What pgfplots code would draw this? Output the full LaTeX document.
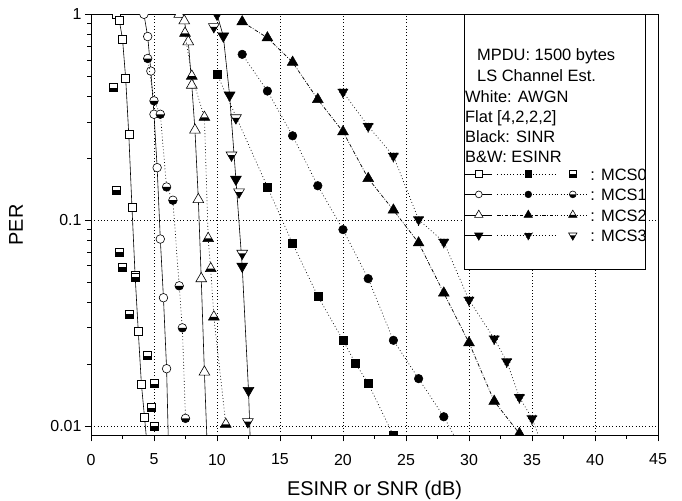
\documentclass[border=0pt]{standalone}
\usepackage{pgfplots}
\pgfplotsset{compat=1.18}
\usepackage{fontspec}
\setmainfont{Liberation Sans}

% half-filled marks (bottom half black)
\pgfdeclareplotmark{hsq}{%
  \pgfscope\pgfsetfillcolor{white}%
  \pgfpathrectangle{\pgfqpoint{-\pgfplotmarksize}{-\pgfplotmarksize}}{\pgfqpoint{2\pgfplotmarksize}{2\pgfplotmarksize}}\pgfusepathqfill\endpgfscope
  \pgfscope\pgfsetfillcolor{black}%
  \pgfpathrectangle{\pgfqpoint{-\pgfplotmarksize}{-\pgfplotmarksize}}{\pgfqpoint{2\pgfplotmarksize}{\pgfplotmarksize}}\pgfusepathqfill\endpgfscope
  \pgfpathrectangle{\pgfqpoint{-\pgfplotmarksize}{-\pgfplotmarksize}}{\pgfqpoint{2\pgfplotmarksize}{2\pgfplotmarksize}}\pgfusepathqstroke}
\pgfdeclareplotmark{hcirc}{%
  \pgfscope\pgfsetfillcolor{white}%
  \pgfpathcircle{\pgfpointorigin}{\pgfplotmarksize}\pgfusepathqfill\endpgfscope
  \pgfscope\pgfsetfillcolor{black}%
  \pgfpathmoveto{\pgfqpoint{-\pgfplotmarksize}{0pt}}\pgfpatharc{180}{360}{\pgfplotmarksize}\pgfpathclose\pgfusepathqfill\endpgfscope
  \pgfpathcircle{\pgfpointorigin}{\pgfplotmarksize}\pgfusepathqstroke}
\pgfdeclareplotmark{htri}{%
  \pgfscope\pgfsetfillcolor{white}%
  \pgfpathmoveto{\pgfqpointpolar{90}{\pgfplotmarksize}}\pgfpathlineto{\pgfqpointpolar{-30}{\pgfplotmarksize}}\pgfpathlineto{\pgfqpointpolar{210}{\pgfplotmarksize}}\pgfpathclose\pgfusepathqfill\endpgfscope
  \pgfscope\pgfsetfillcolor{black}%
  \pgfpathmoveto{\pgfqpointpolar{-30}{\pgfplotmarksize}}\pgfpathlineto{\pgfqpointpolar{210}{\pgfplotmarksize}}\pgfpathlineto{\pgfqpoint{-0.577\pgfplotmarksize}{0pt}}\pgfpathlineto{\pgfqpoint{0.577\pgfplotmarksize}{0pt}}\pgfpathclose\pgfusepathqfill\endpgfscope
  \pgfpathmoveto{\pgfqpointpolar{90}{\pgfplotmarksize}}\pgfpathlineto{\pgfqpointpolar{-30}{\pgfplotmarksize}}\pgfpathlineto{\pgfqpointpolar{210}{\pgfplotmarksize}}\pgfpathclose\pgfusepathqstroke}
\pgfdeclareplotmark{hitri}{%
  \pgfscope\pgfsetfillcolor{white}%
  \pgfpathmoveto{\pgfqpointpolar{-90}{\pgfplotmarksize}}\pgfpathlineto{\pgfqpointpolar{30}{\pgfplotmarksize}}\pgfpathlineto{\pgfqpointpolar{150}{\pgfplotmarksize}}\pgfpathclose\pgfusepathqfill\endpgfscope
  \pgfscope\pgfsetfillcolor{black}%
  \pgfpathmoveto{\pgfqpointpolar{-90}{\pgfplotmarksize}}\pgfpathlineto{\pgfqpoint{0.577\pgfplotmarksize}{0pt}}\pgfpathlineto{\pgfqpoint{-0.577\pgfplotmarksize}{0pt}}\pgfpathclose\pgfusepathqfill\endpgfscope
  \pgfpathmoveto{\pgfqpointpolar{-90}{\pgfplotmarksize}}\pgfpathlineto{\pgfqpointpolar{30}{\pgfplotmarksize}}\pgfpathlineto{\pgfqpointpolar{150}{\pgfplotmarksize}}\pgfpathclose\pgfusepathqstroke}

\tikzset{
  awgnT/.style={black, line width=0.6pt, solid, mark options={solid, fill=white, line width=0.6pt}},
  sinrT/.style={black, line width=0.7pt, dash pattern=on 0.8bp off 2.4bp, mark options={solid, fill=black, line width=0.5pt}},
  sinrddT/.style={black, line width=0.7pt, dash pattern=on 3.5bp off 1.6bp on 0.8bp off 1.6bp, mark options={solid, fill=black, line width=0.5pt}},
  esinrT/.style={black, line width=0.7pt, dash pattern=on 0.8bp off 2.4bp, mark options={solid, line width=0.6pt}},
}
% one legend row: AWGN sample, SINR sample, ESINR sample
\pgfplotsset{
  legrow/.style n args={5}{legend image code/.code={%
    \draw[awgnT, mark=#1, mark size=#2, #4, mark repeat=2, mark phase=2] plot coordinates {(0bp,0bp) (13.5bp,0bp) (27bp,0bp)};
    \draw[#5, mark=#1, mark size=#2, #4, mark repeat=2, mark phase=2] plot coordinates {(32bp,0bp) (63bp,0bp) (92bp,0bp)};
    \path (0bp,0bp) (125bp,0bp);
    #3}},
}

\begin{document}
\begin{tikzpicture}
\begin{axis}[
  scale only axis, width=567bp, height=421.2bp,
  xmin=0, xmax=45, ymode=log, ymin=0.009, ymax=1,
  xtick={0,5,...,45}, minor x tick num=1,
  ytick={0.01,0.1,1}, yticklabels={0.01,0.1,1},
  minor ytick={0.02,0.03,0.04,0.05,0.06,0.07,0.08,0.09,0.2,0.3,0.4,0.5,0.6,0.7,0.8,0.9},
  tick align=outside, tick pos=left,
  major tick length=6bp, minor tick length=3.5bp,
  every tick/.style={black, line width=0.8pt},
  grid=major,
  major grid style={black, line width=0.45pt, dash pattern=on 0.8bp off 2.5bp},
  axis line style={line width=1pt},
  clip marker paths=true,
  /pgf/number format/assume math mode=true,
  tick label style={font=\fontsize{16}{19}\selectfont},
  xticklabel style={yshift=-9bp},
  label style={font=\fontsize{20}{24}\selectfont},
  xlabel={ESINR or SNR (dB)}, ylabel={PER},
  xlabel style={at={(axis description cs:0.5,-0.1413)}, anchor=base},
  ylabel style={at={(axis description cs:-0.12,0.5)}, anchor=base},
  legend columns=1,
  legend cell align=left,
  legend style={at={(axis description cs:0.6596,0.6454)}, anchor=north west,
    draw=none, fill=none, inner sep=0pt, outer sep=0pt, row sep=0pt, column sep=0pt,
    font=\fontsize{16.5}{19.8}\selectfont,
    nodes={inner sep=0pt, text height=16.65bp, text depth=3.85bp}},
]
% AWGN (white)
\addplot[awgnT, mark=square*, mark size=4bp, forget plot] coordinates {
(2,1) (2.25,0.93) (2.5,0.76) (2.75,0.49) (3,0.26) (3.25,0.116) (3.5,0.054) (3.75,0.029) (4,0.016) (4.25,0.011) (4.5,0.0075)};
\addplot[awgnT, mark=*, mark size=4.3bp, forget plot] coordinates {
(4.2,1) (4.5,0.78) (4.75,0.53) (5,0.327) (5.25,0.18) (5.5,0.081) (5.75,0.042) (6,0.019) (6.25,0.0044)};
\addplot[awgnT, mark=triangle*, mark size=6.2bp, forget plot] coordinates {
(7,1) (7.4,0.93) (7.72,0.736) (8,0.453) (8.25,0.274) (8.52,0.126) (8.75,0.052) (9,0.0183) (9.25,0.0072)};
\addplot[awgnT, mark=triangle*, mark size=6.2bp, mark options={rotate=180}, forget plot] coordinates {
(10,1) (10.5,0.784) (11,0.405) (11.5,0.158) (12,0.0598) (12.5,0.0149) (13,0.002)};
% SINR (black)
\addplot[sinrT, mark=square*, mark size=4bp, forget plot] coordinates {
(10,0.513) (14,0.145) (16,0.077) (18,0.0428) (20,0.0261) (21,0.0201) (22,0.0161) (24,0.009)};
\addplot[sinrT, mark=*, mark size=4.3bp, forget plot] coordinates {
(12,0.639) (14,0.424) (16,0.257) (18,0.147) (20,0.090) (22,0.052) (24,0.0261) (26,0.017) (28,0.0111) (30,0.0066)};
\addplot[sinrddT, mark=triangle*, mark size=6.2bp, forget plot] coordinates {
(12,0.92) (14,0.769) (16,0.585) (18,0.386) (20,0.269) (22,0.1595) (24,0.112) (26,0.0776) (28,0.0443) (30,0.0254) (32,0.0132) (34,0.0092)};
\addplot[sinrT, mark=triangle*, mark size=6.2bp, mark options={rotate=180}, forget plot] coordinates {
(20,0.42) (22,0.286) (24,0.205) (26,0.1008) (28,0.0784) (30,0.041) (32,0.0266) (33,0.0206) (34,0.0138) (35,0.0109) (36,0.0075)};
% ESINR (B&W)
\addplot[esinrT, only marks, mark=hsq, mark size=4bp, forget plot] coordinates {
(1.75,0.44) (2,0.14) (2.25,0.07) (2.5,0.059) (3,0.035) (3.5,0.053) (4.5,0.022) (4.75,0.0123) (5,0.0161) (5.05,0.010)};
\addplot[esinrT, mark=hcirc, mark size=4.3bp, forget plot] coordinates {
(4.5,0.61) (5,0.38) (5.5,0.327) (6,0.145) (6.5,0.125) (7,0.048) (7.25,0.030) (7.5,0.0109)};
\addplot[esinrT, mark=htri, mark size=6.2bp, forget plot] coordinates {
(7.46,0.809) (8,0.501) (9,0.316) (9.3,0.0815) (9.5,0.0582) (9.75,0.0339) (10.7,0.0102)};
\addplot[esinrT, only marks, mark=hitri, mark size=6.2bp, forget plot] coordinates {
(9.75,0.87) (11.15,0.207) (11.5,0.314) (11.75,0.137) (12,0.069) (12.45,0.0105)};

% legend box and header text
\draw[black, line width=0.6pt, fill=white] (axis description cs:0.6578,1) rectangle (axis description cs:0.9771,0.3953);
\begin{scope}[every node/.style={anchor=base west, inner sep=0pt, font=\fontsize{16.5}{19.8}\selectfont}]
\node at (axis description cs:0.6808,0.8896) {MPDU: 1500 bytes};
\node at (axis description cs:0.6808,0.8405) {LS Channel Est.};
\node at (axis description cs:0.6596,0.7913) {White: AWGN};
\node at (axis description cs:0.6596,0.7438) {Flat [4,2,2,2]};
\node at (axis description cs:0.6596,0.6963) {Black: SINR};
\node at (axis description cs:0.6596,0.6489) {B\&W: ESINR};
\end{scope}

% legend: one row per MCS (AWGN, SINR, ESINR samples)
\addlegendimage{legrow={square*}{3.2bp}{\draw[esinrT, only marks, mark=hsq, mark size=3.2bp] plot coordinates {(107.5bp,0bp)};}{}{sinrT}}
\addlegendentry{: MCS0}
\addlegendimage{legrow={*}{3.4bp}{\draw[esinrT, mark=hcirc, mark size=3.4bp, mark repeat=2, mark phase=2] plot coordinates {(92bp,0bp) (107.5bp,0bp) (123bp,0bp)};}{}{sinrT}}
\addlegendentry{: MCS1}
\addlegendimage{legrow={triangle*}{4.8bp}{\draw[esinrT, mark=htri, mark size=4.8bp, mark repeat=2, mark phase=2] plot coordinates {(92bp,0bp) (107.5bp,0bp) (123bp,0bp)};}{}{sinrddT}}
\addlegendentry{: MCS2}
\addlegendimage{legrow={triangle*}{4.8bp}{\draw[esinrT, only marks, mark=hitri, mark size=4.8bp] plot coordinates {(107.5bp,0bp)};}{mark options={rotate=180}}{sinrT}}
\addlegendentry{: MCS3}
\end{axis}
\pgfresetboundingbox
\path[use as bounding box] (current axis.south west) ++(-91bp,-65.5bp) rectangle ++(682bp,501bp);
\end{tikzpicture}
\end{document}
